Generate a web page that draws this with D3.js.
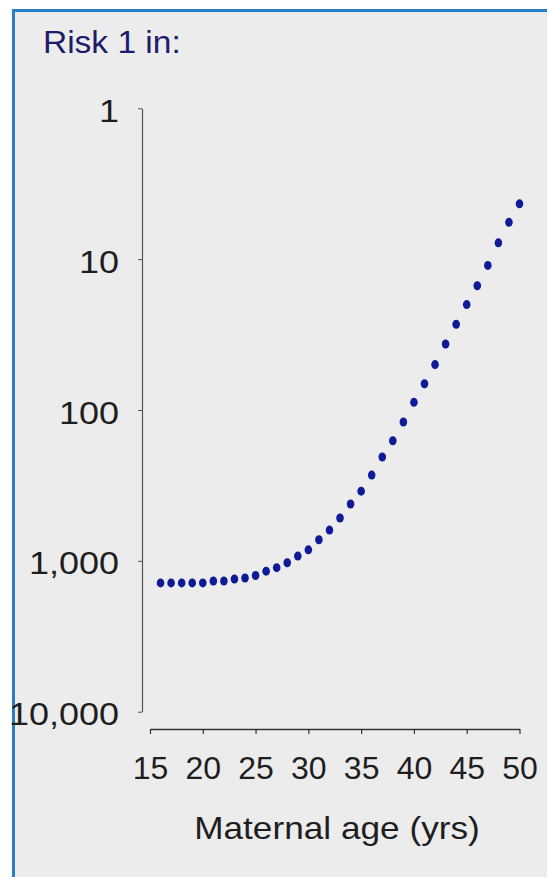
<!DOCTYPE html>
<html>
<head>
<meta charset="utf-8">
<script src="https://cdn.jsdelivr.net/npm/d3@7"></script>
<style>
  html, body { margin: 0; padding: 0; background: #ffffff; }
  svg { display: block; font-family: "Liberation Sans", Arial, sans-serif; }
</style>
</head>
<body>
<svg id="chart" width="547" height="877"></svg>
<script>
// Maternal age (years) for each plotted point
const ages = [16, 17, 18, 19, 20, 21, 22, 23, 24, 25, 26, 27, 28, 29, 30, 31, 32, 33,
              34, 35, 36, 37, 38, 39, 40, 41, 42, 43, 44, 45, 46, 47, 48, 49, 50];
// Risk expressed as "1 in N"
const riskOneIn = [1400, 1400, 1400, 1400, 1400, 1360, 1360, 1320, 1300, 1250, 1170, 1110,
                   1030, 930, 845, 725, 625, 520, 420, 345, 270, 205, 160, 120, 89, 67,
                   50, 36.5, 27, 20, 15, 11, 7.8, 5.7, 4.3];
// Axis ticks
const xTicks = [15, 20, 25, 30, 35, 40, 45, 50];
const yTicks = [1, 10, 100, 1000, 10000];

const svg = d3.select("#chart");

// Widen a text element horizontally by a factor, keeping its anchor
function widen(sel, factor) {
  sel.each(function () {
    const w = this.getComputedTextLength();
    d3.select(this)
      .attr("textLength", w * factor)
      .attr("lengthAdjust", "spacingAndGlyphs");
  });
}

// Framed panel
svg.append("rect")
  .attr("x", 13.5).attr("y", 10.5)
  .attr("width", 560).attr("height", 880)
  .attr("fill", "#ececec")
  .attr("stroke", "#2a7fc8")
  .attr("stroke-width", 3);

const x = d3.scaleLinear().domain([15, 50]).range([150, 519.5]);
const y = d3.scaleLog().domain([1, 10000]).range([108.3, 711.7]);

// Y axis (log, inverted so small risk is at the bottom)
const yAxis = svg.append("g")
  .attr("transform", "translate(142,0)")
  .call(d3.axisLeft(y)
    .tickValues(yTicks)
    .tickFormat(d3.format(","))
    .tickSize(4)
    .tickSizeOuter(0)
    .tickPadding(19));
yAxis.select(".domain").attr("stroke", "#555").attr("stroke-width", 1.2);
yAxis.selectAll(".tick line").attr("stroke", "#555");
yAxis.selectAll(".tick text")
  .attr("font-size", 31)
  .attr("fill", "#1e1e1e")
  .attr("dy", "0.42em")
  .call(widen, 1.16);

// X axis
const xAxis = svg.append("g")
  .attr("transform", "translate(0,729)")
  .call(d3.axisBottom(x)
    .tickValues(xTicks)
    .tickSize(5)
    .tickSizeOuter(0)
    .tickPadding(22));
xAxis.select(".domain").attr("stroke", "#333").attr("stroke-width", 1.5);
xAxis.selectAll(".tick line").attr("stroke", "#333").attr("stroke-width", 1.2);
xAxis.selectAll(".tick text")
  .attr("font-size", 32)
  .attr("fill", "#1e1e1e");

// Data points
svg.append("g")
  .selectAll("ellipse")
  .data(ages.map((a, i) => ({ age: a, risk: riskOneIn[i] })))
  .join("ellipse")
  .attr("cx", d => x(d.age))
  .attr("cy", d => y(d.risk))
  .attr("rx", 3.8)
  .attr("ry", 4.5)
  .attr("fill", "#0f1a96");

// Titles
svg.append("text")
  .attr("x", 43).attr("y", 53)
  .attr("font-size", 31)
  .attr("fill", "#1c1c6a")
  .text("Risk 1 in:")
  .call(widen, 1.08);

svg.append("text")
  .attr("x", 337).attr("y", 839)
  .attr("text-anchor", "middle")
  .attr("font-size", 32)
  .attr("fill", "#1e1e1e")
  .text("Maternal age (yrs)")
  .call(widen, 1.1);
</script>
</body>
</html>
